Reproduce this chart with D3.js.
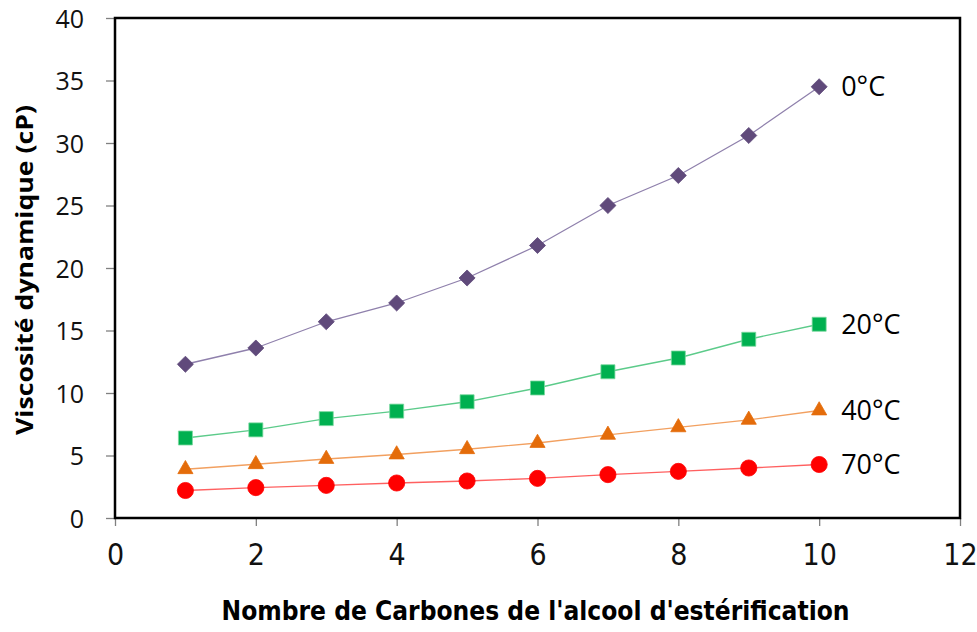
<!DOCTYPE html>
<html>
<head>
<meta charset="utf-8">
<script src="https://cdn.jsdelivr.net/npm/d3@7"></script>
<style>
html,body{margin:0;padding:0;background:#fff;}
svg{display:block;}
</style>
</head>
<body>
<svg id="chart" width="977" height="632"></svg>
<script>
// ---- Data ----
const carbons = [1, 2, 3, 4, 5, 6, 7, 8, 9, 10];
const visc0C  = [12.3, 13.6, 15.7, 17.2, 19.2, 21.8, 25.0, 27.4, 30.6, 34.5];
const visc20C = [6.4, 7.05, 7.95, 8.55, 9.3, 10.4, 11.7, 12.8, 14.3, 15.5];
const visc40C = [3.9, 4.3, 4.72, 5.08, 5.5, 6.0, 6.65, 7.25, 7.85, 8.6];
const visc70C = [2.2, 2.43, 2.61, 2.8, 2.96, 3.17, 3.47, 3.73, 4.0, 4.28];
const seriesNames = ["0°C", "20°C", "40°C", "70°C"];
const xTicks = [0, 2, 4, 6, 8, 10, 12];
const yTicks = [0, 5, 10, 15, 20, 25, 30, 35, 40];
const xTitle = "Nombre de Carbones de l'alcool d'estérification";
const yTitle = "Viscosité dynamique (cP)";

const series = [
  {name: seriesNames[0], values: visc0C,  marker: d3.symbolDiamond2, size: 165, fill: "#604A7B", stroke: "#604A7B", line: "#8F80AC"},
  {name: seriesNames[1], values: visc20C, marker: d3.symbolSquare2,  size: 250, fill: "#00B050", stroke: "#7BD9A0", line: "#5CCB8A"},
  {name: seriesNames[2], values: visc40C, marker: d3.symbolTriangle2, size: 165, fill: "#E46C0A", stroke: "#E46C0A", line: "#F2A060"},
  {name: seriesNames[3], values: visc70C, marker: d3.symbolCircle,   size: 205, fill: "#FF0000", stroke: "#FF0000", line: "#FF6060"}
];

// ---- Layout ----
const svg = d3.select("#chart");
const mLeft = 115, mTop = 18, mRight = 960, mBottom = 518;
const x = d3.scaleLinear().domain([0, 12]).range([mLeft, mRight]);
const y = d3.scaleLinear().domain([0, 40]).range([mBottom, mTop]);

// ticks
const yAxis = d3.axisLeft(y).tickValues(yTicks).tickSize(9).tickPadding(22).tickSizeOuter(0);
const gy = svg.append("g").attr("transform", `translate(${mLeft},0)`).call(yAxis);
gy.select(".domain").remove();
gy.selectAll(".tick line").attr("stroke", "#808080").attr("stroke-width", 1.3);
gy.selectAll(".tick text")
  .attr("font-family", "'Open Sans', 'DejaVu Sans', sans-serif")
  .attr("font-size", 25).attr("fill", "#111")
  .attr("dy", "0.36em");

const xAxis = d3.axisBottom(x).tickValues(xTicks).tickSize(8).tickPadding(18).tickSizeOuter(0);
const gx = svg.append("g").attr("transform", `translate(0,${mBottom})`).call(xAxis);
gx.select(".domain").remove();
gx.selectAll(".tick line").attr("stroke", "#808080").attr("stroke-width", 1.3);
gx.selectAll(".tick text")
  .attr("font-family", "'Liberation Sans Narrow', 'DejaVu Sans Condensed', sans-serif")
  .attr("font-size", 30).attr("fill", "#111")
  .attr("dy", "0.71em");

// plot border
svg.append("rect")
  .attr("x", mLeft).attr("y", mTop)
  .attr("width", mRight - mLeft).attr("height", mBottom - mTop)
  .attr("fill", "none").attr("stroke", "#000").attr("stroke-width", 2.5);

// lines & markers
const lineGen = d3.line().x((d, i) => x(carbons[i])).y(d => y(d));
series.forEach(s => {
  svg.append("path")
    .attr("d", lineGen(s.values))
    .attr("fill", "none").attr("stroke", s.line).attr("stroke-width", 1.3);
});
series.forEach(s => {
  const sym = d3.symbol().type(s.marker).size(s.size);
  svg.append("g").selectAll("path").data(s.values).join("path")
    .attr("d", sym)
    .attr("transform", (d, i) => `translate(${x(carbons[i])},${y(d)})`)
    .attr("fill", s.fill).attr("stroke", s.stroke).attr("stroke-width", 0.8);
  const last = s.values[s.values.length - 1];
  svg.append("text")
    .attr("x", x(carbons[carbons.length - 1]) + 22)
    .attr("y", y(last))
    .attr("dy", "0.36em")
    .attr("font-family", "'Open Sans', 'DejaVu Sans', sans-serif")
    .attr("font-size", 27).attr("fill", "#000")
    .text(s.name);
});

// axis titles
svg.append("text")
  .attr("x", (mLeft + mRight) / 2 - 2).attr("y", 620)
  .attr("text-anchor", "middle")
  .attr("font-family", "'Liberation Sans Narrow', 'DejaVu Sans Condensed', sans-serif")
  .attr("font-weight", "bold").attr("font-size", 27).attr("fill", "#000")
  .attr("textLength", 628).attr("lengthAdjust", "spacingAndGlyphs")
  .text(xTitle);

svg.append("text")
  .attr("transform", "translate(33,270) rotate(-90)")
  .attr("text-anchor", "middle")
  .attr("font-family", "'Open Sans', 'DejaVu Sans', sans-serif")
  .attr("font-weight", "bold").attr("font-size", 23).attr("fill", "#000")
  .attr("textLength", 330).attr("lengthAdjust", "spacingAndGlyphs")
  .text(yTitle);
</script>
</body>
</html>
